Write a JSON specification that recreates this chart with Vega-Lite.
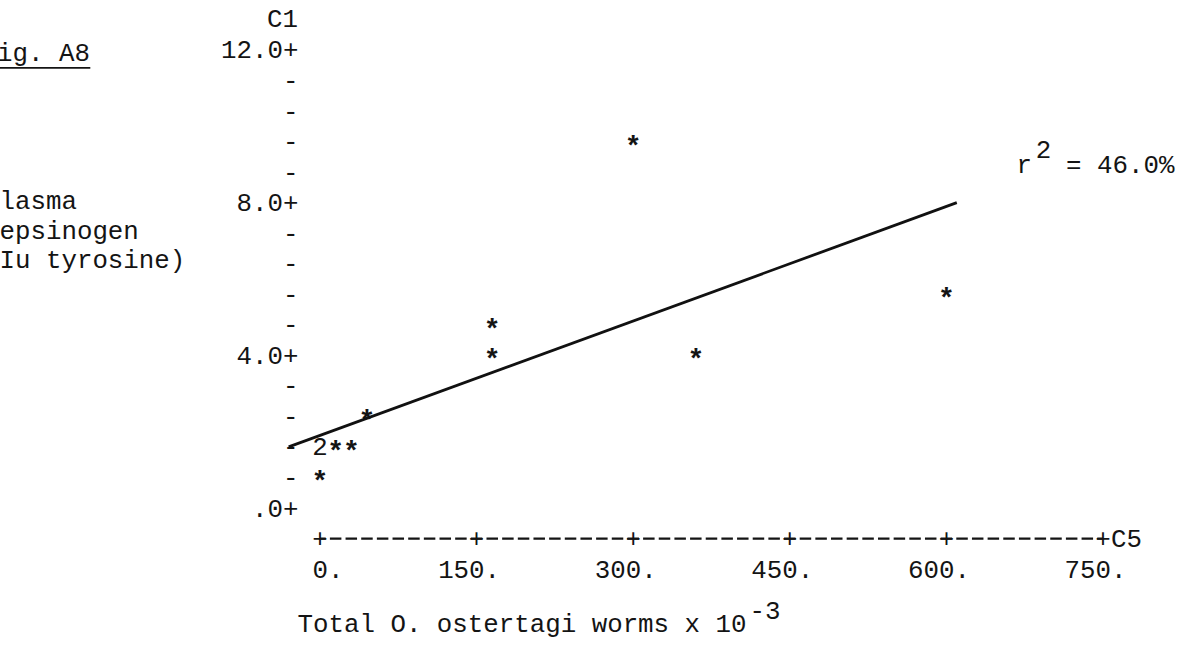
{
  "$schema": "https://vega.github.io/schema/vega-lite/v6.json",
  "width": 1182,
  "height": 655,
  "autosize": {"type": "none"},
  "padding": 0,
  "background": "white",
  "config": {
    "view": {"stroke": null},
    "text": {"font": "Liberation Mono", "fontSize": 25.8, "color": "#141414"}
  },
  "datasets": {
    "pts": [
      {"worms": 300, "pepsinogen": 9.6, "n": 1},
      {"worms": 600, "pepsinogen": 5.6, "n": 1},
      {"worms": 165, "pepsinogen": 4.8, "n": 1},
      {"worms": 165, "pepsinogen": 4.0, "n": 1},
      {"worms": 360, "pepsinogen": 4.0, "n": 1},
      {"worms": 45, "pepsinogen": 2.4, "n": 1},
      {"worms": 0, "pepsinogen": 1.6, "n": 2},
      {"worms": 15, "pepsinogen": 1.6, "n": 1},
      {"worms": 30, "pepsinogen": 1.6, "n": 1},
      {"worms": 0, "pepsinogen": 0.8, "n": 1}
    ],
    "fit": [
      {"worms": -30, "pepsinogen": 1.6},
      {"worms": 610, "pepsinogen": 8.0}
    ],
    "xticks": [
      {"tick": 0}, {"tick": 150}, {"tick": 300}, {"tick": 450}, {"tick": 600}, {"tick": 750}
    ]
  },
  "data": {"values": [{}]},
  "layer": [
    {
      "data": {"name": "pts"},
      "transform": [{"filter": "datum.n == 1"}],
      "mark": {"type": "text", "text": "*", "fontSize": 28, "fontWeight": "bold", "dy": 5},
      "encoding": {
        "x": {
          "field": "worms", "type": "quantitative",
          "scale": {"domain": [-306.5, 825.7], "nice": false, "zero": false},
          "axis": {
            "orient": "bottom", "offset": -86, "title": null,
            "values": [0, 150, 300, 450, 600, 750],
            "labelExpr": "format(datum.value, 'd') + '.'",
            "ticks": false, "tickSize": 0, "domain": false, "grid": false,
            "labelPadding": 0, "labelAlign": "right", "labelOffset": 23,
            "labelBaseline": "middle", "labelFont": "Liberation Mono", "labelFontSize": 25.8,
            "labelColor": "#141414", "labelOverlap": false, "labelFlush": false, "labelBound": false
          }
        },
        "y": {
          "field": "pepsinogen", "type": "quantitative",
          "scale": {"domain": [-3.851, 13.309], "nice": false, "zero": false},
          "axis": {
            "orient": "left", "offset": -298, "title": null,
            "values": [0, 0.8, 1.6, 2.4, 3.2, 4, 4.8, 5.6, 6.4, 7.2, 8, 8.8, 9.6, 10.4, 11.2, 12],
            "labelExpr": "abs(datum.value - 4*round(datum.value/4)) < 0.01 ? (abs(datum.value) < 0.01 ? '.0+' : format(datum.value, '.1f') + '+') : '-'",
            "ticks": false, "tickSize": 0, "domain": false, "grid": false,
            "labelPadding": 0, "labelAlign": "right", "labelBaseline": "middle",
            "labelFont": "Liberation Mono", "labelFontSize": 25.8, "labelColor": "#141414",
            "labelOverlap": false, "labelFlush": false, "labelBound": false
          }
        }
      }
    },
    {
      "data": {"name": "pts"},
      "transform": [{"filter": "datum.n > 1"}],
      "mark": {"type": "text", "dy": 0},
      "encoding": {
        "x": {"field": "worms", "type": "quantitative"},
        "y": {"field": "pepsinogen", "type": "quantitative"},
        "text": {"field": "n"}
      }
    },
    {
      "data": {"name": "fit"},
      "mark": {"type": "line", "color": "#111", "strokeWidth": 2.8},
      "encoding": {
        "x": {"field": "worms", "type": "quantitative"},
        "y": {"field": "pepsinogen", "type": "quantitative"}
      }
    },
    {
      "mark": {"type": "rule", "color": "#141414", "strokeWidth": 2.2, "strokeDash": [11.5, 4.16], "strokeDashOffset": 5.75},
      "encoding": {"x": {"datum": 0}, "x2": {"datum": 750}, "y": {"datum": -0.8}}
    },
    {
      "data": {"name": "xticks"},
      "mark": {"type": "text", "text": "+"},
      "encoding": {"x": {"field": "tick", "type": "quantitative"}, "y": {"datum": -0.8}}
    },
    {
      "mark": {"type": "text", "text": "C5", "align": "left", "dx": 8},
      "encoding": {"x": {"datum": 750}, "y": {"datum": -0.8}}
    },
    {
      "mark": {"type": "text", "text": "C1", "align": "right"},
      "encoding": {"x": {"datum": -21}, "y": {"datum": 12.8}}
    },
    {
      "mark": {"type": "text", "text": "Total O. ostertagi worms x 10", "align": "left"},
      "encoding": {"x": {"datum": -21.5}, "y": {"datum": -3.04}}
    },
    {
      "mark": {"type": "text", "text": "-3", "align": "left"},
      "encoding": {"x": {"datum": 411.5}, "y": {"datum": -2.7}}
    },
    {
      "mark": {"type": "text", "text": "Fig. A8", "align": "right"},
      "encoding": {"x": {"datum": -220.3}, "y": {"datum": 11.92}}
    },
    {
      "mark": {"type": "rule", "color": "#141414", "strokeWidth": 1.6},
      "encoding": {"x": {"datum": -320}, "x2": {"datum": -220}, "y": {"datum": 11.53}}
    },
    {
      "mark": {"type": "text", "text": "Plasma", "align": "left"},
      "encoding": {"x": {"datum": -321.8}, "y": {"datum": 8.05}}
    },
    {
      "mark": {"type": "text", "text": "pepsinogen", "align": "left"},
      "encoding": {"x": {"datum": -321.8}, "y": {"datum": 7.25}}
    },
    {
      "mark": {"type": "text", "text": "(Iu tyrosine)", "align": "left"},
      "encoding": {"x": {"datum": -321.8}, "y": {"datum": 6.5}}
    },
    {
      "mark": {"type": "text", "text": "r", "align": "left"},
      "encoding": {"x": {"datum": 667.1}, "y": {"datum": 8.99}}
    },
    {
      "mark": {"type": "text", "text": "2", "align": "left"},
      "encoding": {"x": {"datum": 685.6}, "y": {"datum": 9.38}}
    },
    {
      "mark": {"type": "text", "text": "= 46.0%", "align": "left"},
      "encoding": {"x": {"datum": 714.6}, "y": {"datum": 8.99}}
    }
  ]
}
